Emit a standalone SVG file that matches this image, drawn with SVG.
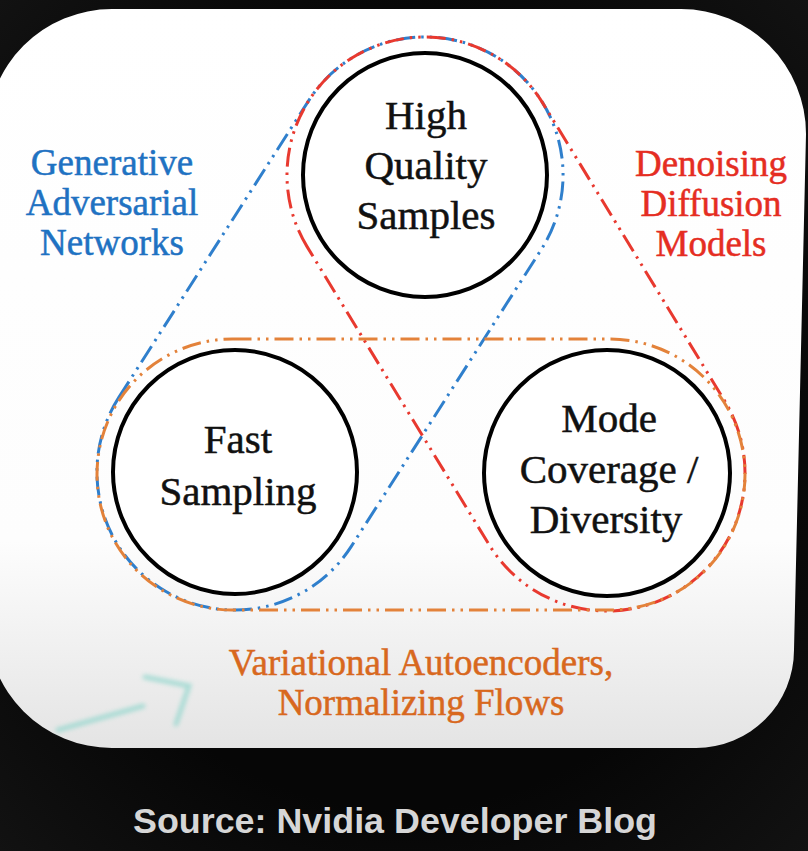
<svg xmlns="http://www.w3.org/2000/svg" width="808" height="851" viewBox="0 0 808 851">
  <defs>
    <linearGradient id="panelFill" x1="0" y1="0" x2="0" y2="1">
      <stop offset="0" stop-color="#ffffff"/>
      <stop offset="0.72" stop-color="#fdfdfd"/>
      <stop offset="1" stop-color="#e4e4e4"/>
    </linearGradient>
    <radialGradient id="bgFill" cx="0.5" cy="0.5" r="0.75">
      <stop offset="0.6" stop-color="#060606"/>
      <stop offset="1" stop-color="#141414"/>
    </radialGradient>
    <filter id="soft" x="-20%" y="-20%" width="140%" height="140%">
      <feGaussianBlur stdDeviation="2.2"/>
    </filter>
    <style>
      .node { fill: #ffffff; stroke: #000000; stroke-width: 4; }
      .ntext { font-family: "Liberation Serif", "Times New Roman", serif; font-size: 41px; fill: #111111; stroke: #111111; stroke-width: 0.5; text-anchor: middle; }
      .ltext { font-family: "Liberation Serif", "Times New Roman", serif; font-size: 37px; stroke-width: 0.5; text-anchor: middle; }
      .hull { fill: none; stroke-width: 3; stroke-dasharray: 19 6 2.5 6 2.5 6; }
      .gan { stroke: #2f7fcc; }
      .ddm { stroke: #e8392f; }
      .vae { stroke: #e3823a; }
    </style>
  </defs>

  <!-- backdrop and the rounded white panel -->
  <rect x="0" y="0" width="808" height="851" fill="url(#bgFill)"/>
  <path d="M 112,9 L 681,9 A 125 125 0 0 1 806,134 L 794,650 A 98 98 0 0 1 696,748 L 112,748 A 125 125 0 0 1 -13,623 L -13,134 A 125 125 0 0 1 112,9 Z" fill="url(#panelFill)"/>

  <!-- faint hand-drawn pointer in the lower left -->
  <g id="pointer" stroke="#8fd6cc" stroke-width="5" fill="none" stroke-linecap="round" opacity="0.7" filter="url(#soft)">
    <path d="M 58,730 L 143,706"/>
    <path d="M 145,677 L 189,686 L 176,724"/>
  </g>

  <!-- family outlines enclosing the properties each model class achieves -->
  <g id="connectors">
    <path id="hull-gan" class="hull gan" d="M 118.7,397.6 L 308.7,100.6 A 138 138 0 0 1 541.3,249.4 L 351.3,546.4 A 138 138 0 0 1 118.7,397.6 Z"/>
    <path id="hull-ddm" class="hull ddm" d="M 307.2,246.9 A 138 138 0 0 1 542.8,103.1 L 724.8,401.1 A 138 138 0 0 1 489.2,544.9 Z"/>
    <rect id="hull-vae" class="hull vae" x="97" y="339" width="648" height="271" rx="135.5" ry="135.5"/>
  </g>

  <!-- property nodes -->
  <g id="node-quality">
    <circle class="node" cx="425" cy="175" r="122"/>
    <text class="ntext" x="426" y="129">High</text>
    <text class="ntext" x="426" y="179">Quality</text>
    <text class="ntext" x="426" y="229">Samples</text>
  </g>
  <g id="node-fast">
    <circle class="node" cx="235" cy="472" r="122"/>
    <text class="ntext" x="238" y="453">Fast</text>
    <text class="ntext" x="238" y="505">Sampling</text>
  </g>
  <g id="node-diversity">
    <circle class="node" cx="607" cy="473" r="123"/>
    <text class="ntext" x="609" y="432">Mode</text>
    <text class="ntext" x="609" y="483">Coverage /</text>
    <text class="ntext" x="606" y="533">Diversity</text>
  </g>

  <!-- model family labels -->
  <g id="label-gan" fill="#1f72c2" stroke="#1f72c2">
    <text class="ltext" x="112" y="175">Generative</text>
    <text class="ltext" x="112" y="215">Adversarial</text>
    <text class="ltext" x="112" y="255">Networks</text>
  </g>
  <g id="label-ddm" fill="#e52d22" stroke="#e52d22">
    <text class="ltext" x="711" y="176">Denoising</text>
    <text class="ltext" x="711" y="216">Diffusion</text>
    <text class="ltext" x="711" y="256">Models</text>
  </g>
  <g id="label-vae" fill="#d8681e" stroke="#d8681e">
    <text class="ltext" x="421" y="675">Variational Autoencoders,</text>
    <text class="ltext" x="421" y="715">Normalizing Flows</text>
  </g>

  <!-- caption -->
  <text x="395" y="833" font-family="'Liberation Sans', Arial, sans-serif" font-weight="bold" font-size="35" fill="#d6d6d6" text-anchor="middle" textLength="524" lengthAdjust="spacingAndGlyphs">Source: Nvidia Developer Blog</text>
</svg>
